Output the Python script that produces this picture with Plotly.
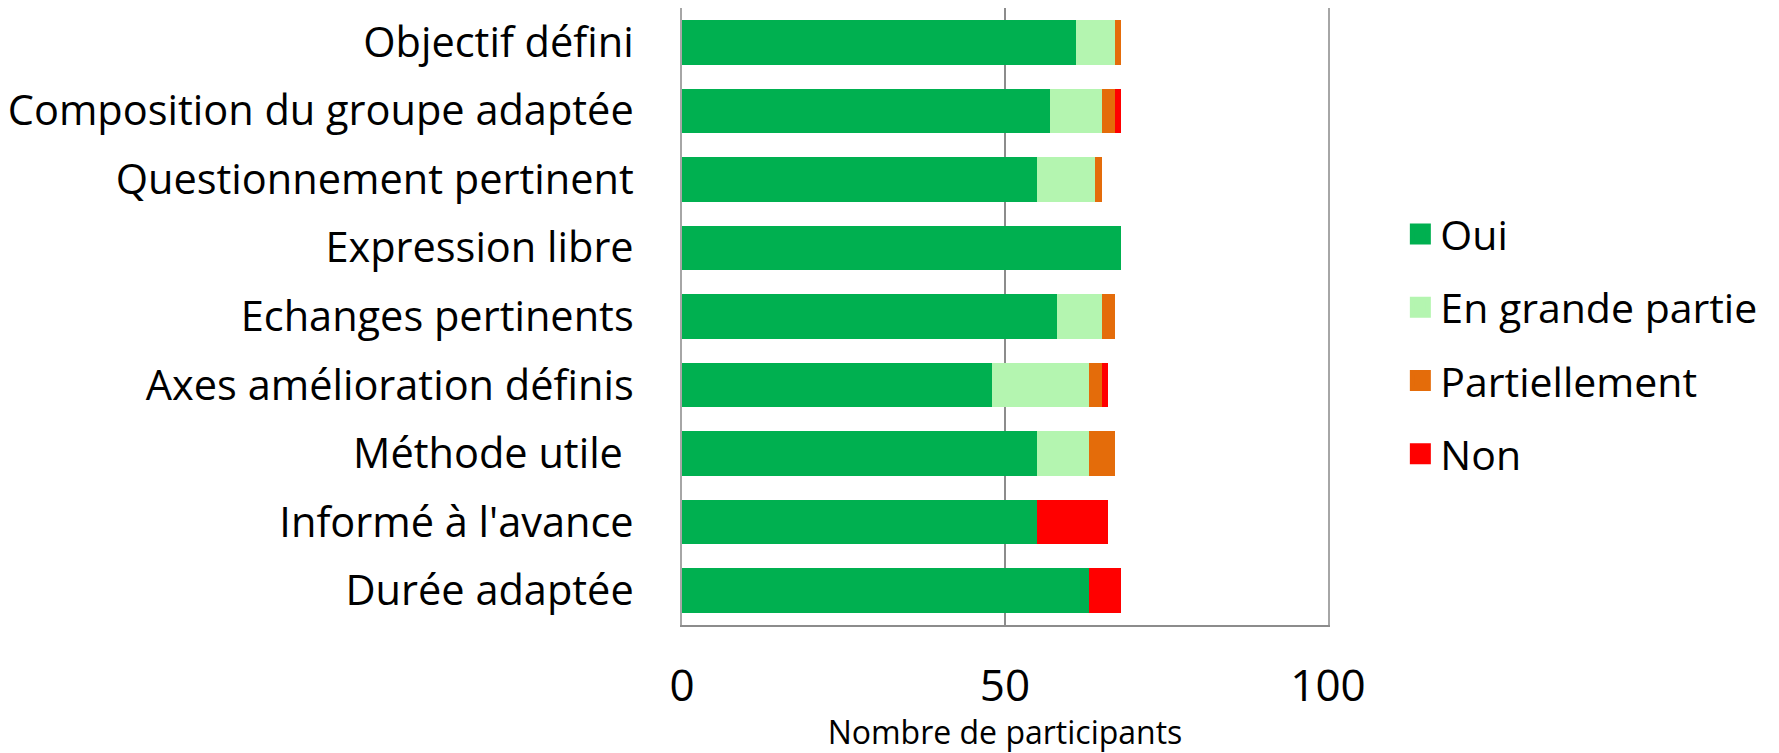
import plotly.graph_objects as go

categories = [
    "Objectif défini",
    "Composition du groupe adaptée",
    "Questionnement pertinent",
    "Expression libre",
    "Echanges pertinents",
    "Axes amélioration définis",
    "Méthode utile ",
    "Informé à l'avance",
    "Durée adaptée",
]
oui = [61, 57, 55, 68, 58, 48, 55, 55, 63]
en_grande_partie = [6, 8, 9, 0, 7, 15, 8, 0, 0]
partiellement = [1, 2, 1, 0, 2, 2, 4, 0, 0]
non = [0, 1, 0, 0, 0, 1, 0, 11, 5]

series_names = ["Oui", "En grande partie", "Partiellement", "Non"]
series_values = [oui, en_grande_partie, partiellement, non]
colors = ["#00B050", "#B4F5B0", "#E46C0A", "#FF0000"]

x_ticks = [0, 50, 100]

FONT = "Open Sans"

fig = go.Figure()
for name, vals, col in zip(series_names, series_values, colors):
    fig.add_trace(go.Bar(
        y=categories, x=vals, name=name, orientation="h",
        marker=dict(color=col, line=dict(width=0)),
        legendgroup=name, showlegend=False,
    ))
# legend entries (larger square swatches)
for name, col in zip(series_names, colors):
    fig.add_trace(go.Scatter(
        x=[None], y=[None], mode="markers", name=name, legendgroup=name,
        marker=dict(symbol="square", size=27, color=col, line=dict(width=5, color=col)),
        showlegend=True, hoverinfo="skip",
    ))

fig.update_layout(
    barmode="stack",
    bargap=0.35,
    width=1771, height=745,
    margin=dict(l=674, r=451, t=0, b=128),
    paper_bgcolor="white", plot_bgcolor="white",
    font=dict(family=FONT, color="black"),
    showlegend=True,
    legend=dict(
        x=1.112, y=0.455, xanchor="left", yanchor="middle",
        font=dict(size=41, family=FONT),
        tracegroupgap=17,
        itemsizing="trace",
        bgcolor="rgba(0,0,0,0)",
    ),
)
fig.update_xaxes(
    range=[0, 100], tickvals=x_ticks, ticktext=[str(v) for v in x_ticks],
    showgrid=True, gridcolor="#8C8C8C", gridwidth=2,
    showline=True, linecolor="#8C8C8C", linewidth=2,
    zeroline=False, ticks="",
    tickfont=dict(size=44, family=FONT),
    ticklabelstandoff=21,
    title=dict(text="Nombre de participants", font=dict(size=32, family=FONT), standoff=14),
    automargin=False,
)
fig.update_yaxes(
    autorange="reversed", showgrid=False,
    showline=True, mirror=True, linecolor="#A6A6A6", linewidth=2,
    zeroline=False, ticks="", tickfont=dict(size=41.5, family=FONT),
    ticklabelstandoff=38, automargin=False,
)

fig.write_html("out.html")
